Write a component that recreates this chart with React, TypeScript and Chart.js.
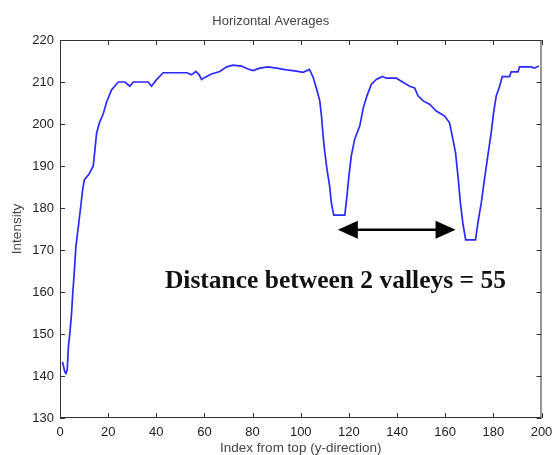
import React, { useEffect, useRef } from "react";
import { Chart, registerables } from "chart.js";

Chart.register(...registerables);

const chartTitle = "Horizontal Averages";
const xAxisTitle = "Index from top (y-direction)";
const yAxisTitle = "Intensity";
const annotationText = "Distance between 2 valleys = 55";

// row index from top
const xIndex = [
  1, 2, 2.5, 3, 3.5, 4.1, 4.8, 5.3, 5.9, 6.6, 7.6, 8.6, 9.4, 10.1, 12, 13.8, 14.5, 15.2,
  16.3, 18, 19.4, 21.4, 24.2, 27, 29, 30.4, 36.6, 38, 40, 42.9, 52.7, 54.6, 56.4, 57.8,
  58.8, 60.2, 62.9, 66.4, 69.2, 71.9, 75.4, 78.1, 80.2, 83, 86.4, 89.9, 94.1, 98.2, 101,
  103.6, 105.1, 106.5, 107.9, 108.6, 109.3, 110, 110.9, 112, 112.7, 113.7, 118.3, 119.2,
  120, 121, 122.4, 124.5, 126, 127.5, 129.3, 131.4, 133.9, 135.6, 139.7, 141.8, 145.2,
  147.3, 148.7, 150.8, 153.5, 156.3, 159.8, 161.8, 162.8, 164.3, 165.3, 166.3, 167.3,
  168.5, 172.6, 173.6, 175, 176.3, 177.7, 179.1, 180.1, 181.2, 182.6, 183.7, 186.7, 187.4,
  190.2, 190.9, 195.7, 197.1, 198.9,
];

// horizontal average intensity
const intensity = [
  143.4, 141, 140.6, 141.5, 147, 150.2, 154.9, 159.7, 164.5, 170.8, 175.5, 180.3, 184.3,
  186.7, 188, 190, 193.8, 197.8, 200.2, 202.5, 205.3, 208.1, 210, 210, 209, 210, 210, 209,
  210.5, 212.2, 212.2, 211.7, 212.5, 211.7, 210.6, 211.1, 211.9, 212.5, 213.6, 214, 213.8,
  213.1, 212.7, 213.3, 213.6, 213.3, 212.9, 212.6, 212.3, 213, 211.2, 208.5, 205.5, 202,
  197.1, 193.2, 189.2, 185.2, 181.3, 178.3, 178.3, 182.9, 187.6, 192.4, 196.4, 199.5,
  203.9, 206.7, 209.4, 210.6, 211.3, 210.9, 210.9, 210.2, 209, 208.6, 206.7, 205.5, 204.7,
  203.1, 201.9, 200.3, 197.5, 193.2, 187.6, 181.3, 176.5, 172.4, 172.4, 176.5, 181.3,
  186.8, 192.4, 197.9, 202.7, 206.7, 209, 211.3, 211.3, 212.4, 212.4, 213.6, 213.6, 213.3,
  213.8,
];

// double-headed arrow between the two valleys (data units)
const arrowFrom = 115.4;
const arrowTo = 164.3;
const arrowLevel = 174.8;
// annotation text anchor (data units)
const textX = 114.4;
const textY = 160.95;

const xMin = 0;
const xMax = 200;
const yMin = 130;
const yMax = 220;

const boxPlugin = {
  id: "boxAndAnnotations",
  afterDraw(chart: any) {
    const { ctx, chartArea } = chart;
    const xs = chart.scales.x;
    const ys = chart.scales.y;
    const { left, right, top, bottom } = chartArea;
    ctx.save();
    // box
    ctx.strokeStyle = "#333";
    ctx.lineWidth = 1;
    ctx.strokeRect(left + 0.5, top + 0.5, right - left - 1, bottom - top - 1);
    // inward ticks
    const tl = 5;
    ctx.beginPath();
    xs.ticks.forEach((t: any) => {
      const px = Math.round(xs.getPixelForValue(t.value)) + 0.5;
      ctx.moveTo(px, bottom);
      ctx.lineTo(px, bottom - tl);
      ctx.moveTo(px, top);
      ctx.lineTo(px, top + tl);
    });
    ys.ticks.forEach((t: any) => {
      const py = Math.round(ys.getPixelForValue(t.value)) + 0.5;
      ctx.moveTo(left, py);
      ctx.lineTo(left + tl, py);
      ctx.moveTo(right, py);
      ctx.lineTo(right - tl, py);
    });
    ctx.stroke();

    // arrow
    const ax1 = xs.getPixelForValue(arrowFrom);
    const ax2 = xs.getPixelForValue(arrowTo);
    const ay = ys.getPixelForValue(arrowLevel);
    const headLen = 20;
    const headHalf = 9;
    ctx.strokeStyle = "#000";
    ctx.lineWidth = 2.5;
    ctx.beginPath();
    ctx.moveTo(ax1 + headLen - 2, ay);
    ctx.lineTo(ax2 - headLen + 2, ay);
    ctx.stroke();
    ctx.fillStyle = "#000";
    ctx.beginPath();
    ctx.moveTo(ax1, ay);
    ctx.lineTo(ax1 + headLen, ay - headHalf);
    ctx.lineTo(ax1 + headLen, ay + headHalf);
    ctx.closePath();
    ctx.fill();
    ctx.beginPath();
    ctx.moveTo(ax2, ay);
    ctx.lineTo(ax2 - headLen, ay - headHalf);
    ctx.lineTo(ax2 - headLen, ay + headHalf);
    ctx.closePath();
    ctx.fill();

    // text
    ctx.fillStyle = "#111";
    ctx.font = "bold 25.5px 'Liberation Serif', 'Times New Roman', serif";
    ctx.textAlign = "center";
    ctx.textBaseline = "alphabetic";
    ctx.fillText(annotationText, xs.getPixelForValue(textX), ys.getPixelForValue(textY));
    ctx.restore();
  },
};

export default function App() {
  const canvasRef = useRef<HTMLCanvasElement | null>(null);

  useEffect(() => {
    if (!canvasRef.current) return;
    const points = xIndex.map((x, i) => ({ x, y: intensity[i] }));
    const chart = new Chart(canvasRef.current, {
      type: "line",
      data: {
        datasets: [
          {
            data: points,
            borderColor: "#2a2aff",
            borderWidth: 1.7,
            pointRadius: 0,
            fill: false,
            tension: 0,
          },
        ],
      },
      options: {
        animation: false,
        responsive: false,
        events: [],
        layout: { padding: { left: 0, right: 12.5, top: 0, bottom: 0 } },
        plugins: {
          legend: { display: false },
          tooltip: { enabled: false },
          title: {
            display: true,
            text: chartTitle,
            color: "#444",
            font: { family: "'Liberation Sans', Arial, sans-serif", size: 13, weight: "normal", lineHeight: 1.2 },
            padding: { top: 14, bottom: 10.4 },
          },
        },
        scales: {
          x: {
            type: "linear",
            min: xMin,
            max: xMax,
            grid: { display: false, drawTicks: false },
            border: { display: false },
            ticks: {
              stepSize: 20,
              color: "#222",
              padding: 7,
              maxRotation: 0,
              font: { family: "'Liberation Sans', Arial, sans-serif", size: 13 },
            },
            title: {
              display: true,
              text: xAxisTitle,
              color: "#444",
              font: { family: "'Liberation Sans', Arial, sans-serif", size: 13.5, lineHeight: 1 },
              padding: { top: 0, bottom: 0 },
            },
            afterFit: (scale: any) => {
              scale.height = 37;
              scale.paddingLeft = 0;
              scale.paddingRight = 0;
            },
          },
          y: {
            type: "linear",
            min: yMin,
            max: yMax,
            grid: { display: false, drawTicks: false },
            border: { display: false },
            ticks: {
              stepSize: 10,
              color: "#222",
              padding: 6,
              font: { family: "'Liberation Sans', Arial, sans-serif", size: 13 },
            },
            title: {
              display: true,
              text: yAxisTitle,
              color: "#444",
              font: { family: "'Liberation Sans', Arial, sans-serif", size: 13.5, lineHeight: 1 },
              padding: { top: 11, bottom: 11 },
            },
            afterFit: (scale: any) => {
              scale.width = 60;
              scale.paddingTop = 0;
              scale.paddingBottom = 0;
            },
          },
        },
      },
      plugins: [boxPlugin],
    });
    return () => chart.destroy();
  }, []);

  return (
    <div style={{ position: "absolute", left: 0, top: 0, width: 554, height: 455, background: "#fff" }}>
      <canvas ref={canvasRef} width={554} height={455} />
    </div>
  );
}
